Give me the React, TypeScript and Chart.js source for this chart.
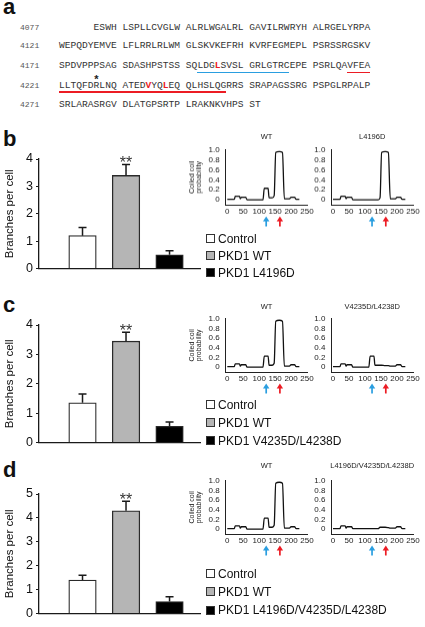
import React, { useEffect, useRef } from 'react';
import { Chart, registerables } from 'chart.js';
Chart.register(...registerables);

const SANS = "'Liberation Sans', Arial, Helvetica, sans-serif";
const MONO = "'Liberation Mono', 'Courier New', monospace";

// ---------------- Panel a: sequence ----------------
const seqStarts = ['4077', '4121', '4171', '4221', '4271'];
const seqLines = [
  '      ESWH LSPLLCVGLW ALRLWGALRL GAVILRWRYH ALRGELYRPA',
  'WEPQDYEMVE LFLRRLRLWM GLSKVKEFRH KVRFEGMEPL PSRSSRGSKV',
  'SPDVPPPSAG SDASHPSTSS SQLDGLSVSL GRLGTRCEPE PSRLQAVFEA',
  'LLTQFDRLNQ ATEDVYQLEQ QLHSLQGRRS SRAPAGSSRG PSPGLRPALP',
  'SRLARASRGV DLATGPSRTP LRAKNKVHPS ST',
];
// [line, char index] of residues shown in red
const redResidues: [number, number][] = [[2, 27], [3, 15], [3, 18]];
// [line, first char, last char, kind]
const underlineSpans: [number, number, number, 'blue' | 'red'][] = [
  [2, 24, 39, 'blue'],
  [2, 50, 53, 'red'],
  [3, 0, 28, 'red'],
];
const asteriskResidue: [number, number] = [3, 6];

// ---------------- Bar charts ----------------
const groupIndex = [0, 1, 2];
const legendB = ['Control', 'PKD1 WT', 'PKD1 L4196D'];
const legendC = ['Control', 'PKD1 WT', 'PKD1 V4235D/L4238D'];
const legendD = ['Control', 'PKD1 WT', 'PKD1 L4196D/V4235D/L4238D'];
const valuesB = [1.2, 3.4, 0.5];
const errorsB = [0.3, 0.4, 0.15];
const valuesC = [1.35, 3.45, 0.55];
const errorsC = [0.3, 0.3, 0.15];
const valuesD = [1.4, 4.3, 0.5];
const errorsD = [0.2, 0.4, 0.2];
const ticksBC = [0, 1, 2, 3, 4];
const ticksD = [0, 1, 2, 3, 4, 5];
const significance = ['', '**', ''];

// ---------------- Coiled-coil probability ----------------
const residues = [0, 22, 25, 38, 41, 44, 47, 58, 62, 112, 116, 128, 131, 141, 147, 152, 163, 173, 179, 195, 200, 211, 216, 226];
const ccWT =      [0.01, 0.01, 0.07, 0.07, 0.02, 0.05, 0.05, 0.05, 0.0, 0.0, 0.23, 0.23, 0.04, 0.04, 0.08, 0.95, 0.97, 0.95, 0.02, 0.02, 0.05, 0.05, 0.01, 0.01];
const ccL4196D =  [0.01, 0.01, 0.07, 0.07, 0.02, 0.05, 0.05, 0.05, 0.0, 0.0, 0.0, 0.0, 0.0, 0.0, 0.04, 0.95, 0.97, 0.95, 0.02, 0.02, 0.05, 0.05, 0.01, 0.01];
const ccVL =      [0.01, 0.01, 0.07, 0.07, 0.02, 0.05, 0.05, 0.05, 0.0, 0.0, 0.23, 0.23, 0.04, 0.04, 0.04, 0.04, 0.03, 0.03, 0.02, 0.02, 0.05, 0.05, 0.01, 0.01];
const ccTriple =  [0.01, 0.01, 0.07, 0.07, 0.02, 0.05, 0.05, 0.05, 0.01, 0.01, 0.01, 0.01, 0.01, 0.01, 0.04, 0.04, 0.04, 0.03, 0.02, 0.02, 0.05, 0.05, 0.01, 0.01];
const ccXTicks = [0, 50, 100, 150, 200, 250];
const ccYTicks = [0, 0.2, 0.4, 0.6, 0.8, 1.0];
const arrowResidues = [122, 165];

// ---------------- styles ----------------
const BLUE = '#2a9ee0';
const RED = '#ec1c24';
const arrowColors = [BLUE, RED];
const barFills = ['#ffffff', '#b5b5b5', '#000000'];

type Rect = { left: number; top: number; right: number; bottom: number };

function ChartBox({ canvas, make }: { canvas: Rect; make: () => any }) {
  const ref = useRef<HTMLCanvasElement>(null);
  useEffect(() => {
    const c = new Chart(ref.current as HTMLCanvasElement, make());
    return () => c.destroy();
  }, []);
  const w = canvas.right - canvas.left;
  const h = canvas.bottom - canvas.top;
  return (
    <canvas
      ref={ref}
      width={w}
      height={h}
      style={{ position: 'absolute', left: canvas.left, top: canvas.top, width: w, height: h }}
    />
  );
}

const errorBarPlugin = {
  id: 'errorBars',
  afterDatasetsDraw(chart: any, _a: any, opts: any) {
    const { ctx } = chart;
    const x = chart.scales.x;
    const y = chart.scales.y;
    (opts.values || []).forEach((v: number, i: number) => {
      const px = x.getPixelForValue(i);
      const yb = y.getPixelForValue(v);
      const yt = y.getPixelForValue(v + opts.errors[i]);
      ctx.save();
      ctx.strokeStyle = '#1a1a1a';
      ctx.lineWidth = 1.5;
      ctx.beginPath();
      ctx.moveTo(px, yb);
      ctx.lineTo(px, yt);
      ctx.moveTo(px - 4, yt);
      ctx.lineTo(px + 4, yt);
      ctx.stroke();
      if (opts.marks && opts.marks[i]) {
        ctx.fillStyle = '#333';
        ctx.font = `16px ${SANS}`;
        ctx.textAlign = 'center';
        ctx.textBaseline = 'alphabetic';
        ctx.fillText(opts.marks[i], px, yt + 4);
      }
      ctx.restore();
    });
  },
};

const arrowPlugin = {
  id: 'arrows',
  afterDraw(chart: any, _a: any, opts: any) {
    const { ctx, chartArea } = chart;
    const x = chart.scales.x;
    (opts.xs || []).forEach((v: number, i: number) => {
      const px = x.getPixelForValue(v);
      const tip = chartArea.bottom + 11.5;
      const end = chartArea.bottom + 21.5;
      ctx.save();
      ctx.strokeStyle = opts.colors[i];
      ctx.fillStyle = opts.colors[i];
      ctx.lineWidth = 1.7;
      ctx.beginPath();
      ctx.moveTo(px, tip + 4);
      ctx.lineTo(px, end);
      ctx.stroke();
      ctx.beginPath();
      ctx.moveTo(px, tip);
      ctx.lineTo(px - 3.2, tip + 5);
      ctx.lineTo(px + 3.2, tip + 5);
      ctx.closePath();
      ctx.fill();
      ctx.restore();
    });
  },
};

function barConfig(values: number[], errors: number[], ticks: number[], plot: Rect, canvas: Rect) {
  return {
    type: 'bar',
    data: {
      datasets: [
        {
          data: groupIndex.map((g, i) => ({ x: g, y: values[i] })),
          backgroundColor: barFills,
          borderColor: '#2a2a2a',
          borderWidth: 1.3,
          barThickness: 27.5,
        },
      ],
    },
    options: {
      animation: false,
      responsive: false,
      events: [],
      layout: { padding: { left: 0, top: plot.top - canvas.top, right: canvas.right - plot.right, bottom: 0 } },
      plugins: {
        legend: { display: false },
        tooltip: { enabled: false },
        errorBars: { values, errors, marks: significance },
      },
      scales: {
        x: {
          type: 'linear',
          offset: false,
          min: -1,
          max: 2.7,
          grid: { display: false, drawTicks: false },
          ticks: { display: false },
          border: { color: '#1a1a1a', width: 1.3 },
          afterFit: (s: any) => { s.height = canvas.bottom - plot.bottom; },
        },
        y: {
          min: 0,
          max: ticks[ticks.length - 1],
          afterBuildTicks: (s: any) => { s.ticks = ticks.map((v) => ({ value: v })); },
          ticks: { font: { family: SANS, size: 12.5 }, color: '#111', padding: 3, autoSkip: false },
          grid: { display: true, drawOnChartArea: false, drawTicks: true, tickLength: 3, color: '#1a1a1a' },
          border: { color: '#1a1a1a', width: 1.3 },
          title: {
            display: true,
            text: 'Branches per cell',
            font: { family: SANS, size: 11.5 },
            color: '#111',
            padding: { top: 3, bottom: 0 },
          },
          afterFit: (s: any) => { s.width = plot.left - canvas.left; },
        },
      },
    },
    plugins: [errorBarPlugin],
  };
}

function ccConfig(ys: number[], plot: Rect, canvas: Rect, withTitle: boolean) {
  return {
    type: 'line',
    data: {
      datasets: [
        {
          data: residues.map((r, i) => ({ x: r, y: ys[i] })),
          borderColor: '#111',
          borderWidth: 1.3,
          pointRadius: 0,
          cubicInterpolationMode: 'monotone',
          fill: false,
        },
      ],
    },
    options: {
      animation: false,
      responsive: false,
      events: [],
      layout: { padding: { left: 0, top: plot.top - canvas.top, right: canvas.right - plot.right, bottom: 0 } },
      plugins: {
        legend: { display: false },
        tooltip: { enabled: false },
        arrows: { xs: arrowResidues, colors: arrowColors },
      },
      scales: {
        x: {
          type: 'linear',
          min: -5,
          max: 250,
          afterBuildTicks: (s: any) => { s.ticks = ccXTicks.map((v) => ({ value: v })); },
          ticks: { font: { family: SANS, size: 8 }, color: '#222', padding: 1.5, maxRotation: 0, autoSkip: false },
          grid: { display: false, drawTicks: false },
          border: { color: '#222', width: 1 },
          afterFit: (s: any) => { s.height = canvas.bottom - plot.bottom; },
        },
        y: {
          min: -0.1,
          max: 1.0,
          afterBuildTicks: (s: any) => { s.ticks = ccYTicks.map((v) => ({ value: v })); },
          ticks: {
            font: { family: SANS, size: 8 },
            color: '#222',
            padding: 6,
            autoSkip: false,
            callback: (v: number) => (v === 0 ? '0' : Number(v).toFixed(1)),
          },
          grid: { display: false, drawTicks: false },
          border: { color: '#222', width: 1 },
          title: withTitle
            ? {
                display: true,
                text: ['Coiled coil', 'probability'],
                font: { family: SANS, size: 7, lineHeight: 1 },
                color: '#222',
                padding: { top: 4, bottom: 0 },
              }
            : { display: false },
          afterFit: (s: any) => { s.width = plot.left - canvas.left; },
        },
      },
    },
    plugins: [arrowPlugin],
  };
}

// text helper: y is the baseline
function Txt({ x, y, size, children, bold, color = '#111', center, family = SANS, ascentRatio = 0.8465 }: any) {
  return (
    <div
      style={{
        position: 'absolute',
        left: x,
        top: y - ascentRatio * size,
        fontFamily: family,
        fontSize: size,
        lineHeight: `${size}px`,
        fontWeight: bold ? 'bold' : 'normal',
        color,
        whiteSpace: 'pre',
        transform: center ? 'translateX(-50%)' : undefined,
      }}
    >
      {children}
    </div>
  );
}

const SEQ_LEFT = 59;
const CHAR_W = 5.76;
const SEQ_SIZE = 9.6;
const seqBaselines = [30, 48.5, 68.3, 88.3, 107.3];

function SequencePanel() {
  return (
    <>
      {seqLines.map((line, li) => (
        <React.Fragment key={li}>
          <Txt x={20} y={seqBaselines[li]} size={8} family={MONO} ascentRatio={0.7665} color="#555">
            {seqStarts[li]}
          </Txt>
          <Txt x={SEQ_LEFT} y={seqBaselines[li]} size={SEQ_SIZE} family={MONO} ascentRatio={0.7665} color="#333">
            {line.split('').map((ch, ci) => {
              const red = redResidues.some(([l, c]) => l === li && c === ci);
              return red ? (
                <span key={ci} style={{ color: RED, fontWeight: 'bold' }}>{ch}</span>
              ) : (
                <span key={ci}>{ch}</span>
              );
            })}
          </Txt>
        </React.Fragment>
      ))}
      {underlineSpans.map(([li, a, b, kind], i) => (
        <div
          key={i}
          style={{
            position: 'absolute',
            left: SEQ_LEFT + a * CHAR_W,
            width: (b - a + 1) * CHAR_W,
            top: seqBaselines[li] + (li === 2 ? 3.6 : 2.8),
            height: 1.6,
            background: kind === 'blue' ? BLUE : RED,
          }}
        />
      ))}
      <Txt
        x={SEQ_LEFT + (asteriskResidue[1] + 0.5) * CHAR_W}
        y={seqBaselines[asteriskResidue[0]] - 5}
        size={11}
        bold
        center
        color="#222"
      >
        *
      </Txt>
    </>
  );
}

function Legend({ labels, centers }: { labels: string[]; centers: number[] }) {
  return (
    <>
      {labels.map((l, i) => (
        <React.Fragment key={i}>
          <div
            style={{
              position: 'absolute',
              left: 206,
              top: centers[i] - 4.5,
              width: 9,
              height: 9,
              boxSizing: 'border-box',
              border: '1px solid #333',
              background: barFills[i],
            }}
          />
          <Txt x={218} y={centers[i] + 4.3} size={12}>
            {l}
          </Txt>
        </React.Fragment>
      ))}
    </>
  );
}

const BAR_LEFT = 39;
const BAR_RIGHT = 200;
const barRows = [
  { top: 159, bottom: 271 },
  { top: 325, bottom: 445 },
  { top: 494, bottom: 616 },
];
const ccRows = [
  { top: 147.3, zero: 200 },
  { top: 316, zero: 367.3 },
  { top: 477.7, zero: 529.3 },
];
const CC_SCALE = 0.32;
const ccCols = [
  { zeroX: 227.3, canvasLeft: 185 },
  { zeroX: 333, canvasLeft: 305 },
];

function barRect(row: number) {
  const r = barRows[row];
  const plot = { left: BAR_LEFT, right: BAR_RIGHT, top: r.top, bottom: r.bottom };
  const canvas = { left: 0, right: 205, top: r.top - 26, bottom: r.bottom + 8 };
  return { plot, canvas };
}

function ccRect(row: number, col: number) {
  const r = ccRows[row];
  const c = ccCols[col];
  const bottom = r.zero + (r.zero - r.top) * 0.1;
  const plot = { left: c.zeroX - 5 * CC_SCALE, right: c.zeroX + 250 * CC_SCALE, top: r.top, bottom };
  const canvas = { left: c.canvasLeft, right: plot.right + 10, top: r.top - 8, bottom: bottom + 26 };
  return { plot, canvas };
}

function Row({ row, values, errors, ticks, legend, legendCenters, ccLeft, ccRight, titles, titleY }: any) {
  const b = barRect(row);
  const c1 = ccRect(row, 0);
  const c2 = ccRect(row, 1);
  return (
    <>
      <ChartBox canvas={b.canvas} make={() => barConfig(values, errors, ticks, b.plot, b.canvas)} />
      <ChartBox canvas={c1.canvas} make={() => ccConfig(ccLeft, c1.plot, c1.canvas, true)} />
      <ChartBox canvas={c2.canvas} make={() => ccConfig(ccRight, c2.plot, c2.canvas, false)} />
      <Txt x={(c1.plot.left + c1.plot.right) / 2} y={titleY + 2.7} size={7.5} center color="#222">
        {titles[0]}
      </Txt>
      <Txt x={(c2.plot.left + c2.plot.right) / 2} y={titleY + 2.7} size={7.5} center color="#222">
        {titles[1]}
      </Txt>
      <Legend labels={legend} centers={legendCenters} />
    </>
  );
}

export default function App() {
  return (
    <div
      style={{
        position: 'absolute',
        left: 0,
        top: 0,
        width: 425,
        height: 627,
        background: '#fff',
        overflow: 'hidden',
      }}
    >
      <Txt x={3} y={15} size={22} bold color="#111">a</Txt>
      <Txt x={3} y={147} size={22} bold color="#111">b</Txt>
      <Txt x={3} y={313} size={22} bold color="#111">c</Txt>
      <Txt x={3} y={478} size={22} bold color="#111">d</Txt>
      <SequencePanel />
      <Row
        row={0}
        values={valuesB}
        errors={errorsB}
        ticks={ticksBC}
        legend={legendB}
        legendCenters={[238.5, 255.5, 272.5]}
        ccLeft={ccWT}
        ccRight={ccL4196D}
        titles={['WT', 'L4196D']}
        titleY={137}
      />
      <Row
        row={1}
        values={valuesC}
        errors={errorsC}
        ticks={ticksBC}
        legend={legendC}
        legendCenters={[404.5, 422.5, 440.5]}
        ccLeft={ccWT}
        ccRight={ccVL}
        titles={['WT', 'V4235D/L4238D']}
        titleY={307}
      />
      <Row
        row={2}
        values={valuesD}
        errors={errorsD}
        ticks={ticksD}
        legend={legendD}
        legendCenters={[573.5, 591.5, 610]}
        ccLeft={ccWT}
        ccRight={ccTriple}
        titles={['WT', 'L4196D/V4235D/L4238D']}
        titleY={466}
      />
    </div>
  );
}
